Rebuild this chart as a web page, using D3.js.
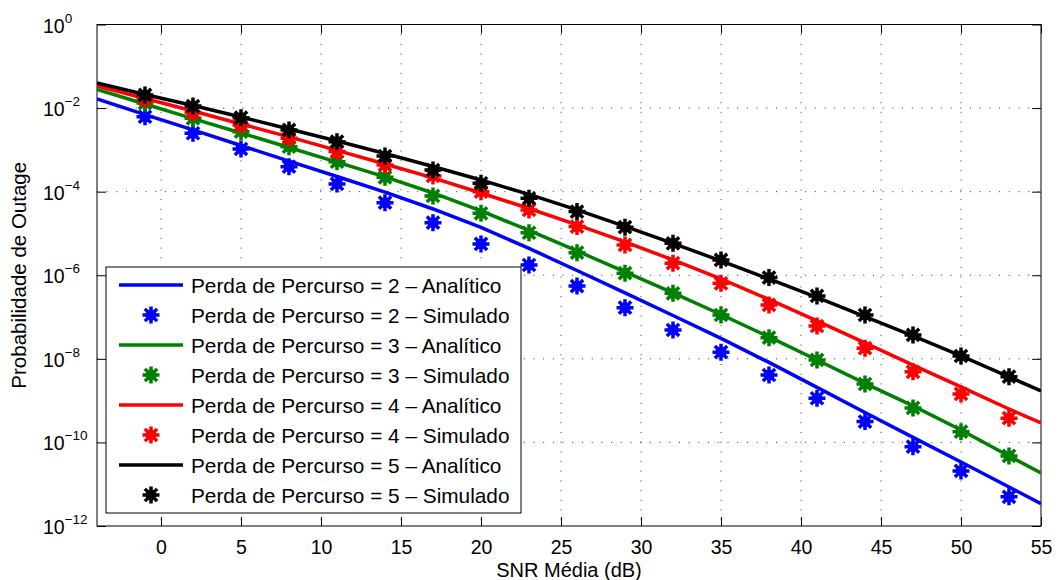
<!DOCTYPE html>
<html>
<head>
<meta charset="utf-8">
<script src="https://cdn.jsdelivr.net/npm/d3@7"></script>
<style>
  body { margin: 0; background: #fff; }
  text { font-family: "Liberation Sans", Arial, sans-serif; fill: #000; }
</style>
</head>
<body>
<svg id="chart" width="1058" height="580"></svg>
<script>
// SNR points (dB)
const snrSim = [-1, 2, 5, 8, 11, 14, 17, 20, 23, 26, 29, 32, 35, 38, 41, 44, 47, 50, 53];
const snrAna = [-4, -1, 2, 5, 8, 11, 14, 17, 20, 23, 26, 29, 32, 35, 38, 41, 44, 47, 50, 53, 55];

// analytic curves
const anaPL2 = [1.65e-2, 7.0e-3, 3.0e-3, 1.27e-3, 5.4e-4, 2.31e-4, 9.8e-5, 3.85e-5, 1.39e-5, 4.38e-6, 1.30e-6,
  3.77e-7, 1.09e-7, 3.08e-8, 8.2e-9, 2.07e-9, 5.2e-10, 1.32e-10, 3.41e-11, 8.6e-12, 3.4e-12];
const anaPL3 = [2.79e-2, 1.25e-2, 5.6e-3, 2.54e-3, 1.14e-3, 5.1e-4, 2.25e-4, 9.3e-5, 3.45e-5, 1.18e-5, 3.81e-6,
  1.2e-6, 3.77e-7, 1.15e-7, 3.34e-8, 9.4e-9, 2.58e-9, 7.5e-10, 1.99e-10, 4.75e-11, 1.86e-11];
const anaPL4 = [3.38e-2, 1.7e-2, 8.5e-3, 4.17e-3, 2.04e-3, 9.7e-4, 4.6e-4, 2.13e-4, 9.3e-5, 3.96e-5, 1.6e-5,
  6.3e-6, 2.32e-6, 8.15e-7, 2.64e-7, 8.1e-8, 2.4e-8, 7.1e-9, 2.13e-9, 6.3e-10, 2.93e-10];
const anaPL5 = [3.98e-2, 2.11e-2, 1.15e-2, 6.1e-3, 3.16e-3, 1.63e-3, 8.2e-4, 4.0e-4, 1.9e-4, 8.6e-5, 3.65e-5,
  1.47e-5, 5.8e-6, 2.2e-6, 8.15e-7, 2.94e-7, 1.03e-7, 3.53e-8, 1.17e-8, 3.69e-9, 1.71e-9];

// simulated points
const simPL2 = [6.2e-3, 2.5e-3, 1.05e-3, 3.96e-4, 1.53e-4, 5.46e-5, 1.81e-5, 5.6e-6, 1.76e-6, 5.5e-7,
  1.68e-7, 4.9e-8, 1.44e-8, 4.1e-9, 1.14e-9, 3.15e-10, 7.9e-11, 2.08e-11, 5.0e-12];
const simPL3 = [1.32e-2, 5.7e-3, 2.72e-3, 1.19e-3, 5.2e-4, 2.21e-4, 7.9e-5, 3.04e-5, 1.04e-5, 3.47e-6,
  1.12e-6, 3.7e-7, 1.12e-7, 3.2e-8, 9.4e-9, 2.5e-9, 6.7e-10, 1.81e-10, 4.75e-11];
const simPL4 = [1.65e-2, 7.8e-3, 3.94e-3, 1.9e-3, 9.1e-4, 4.35e-4, 2.38e-4, 1.0e-4, 3.65e-5, 1.46e-5,
  5.3e-6, 1.94e-6, 6.4e-7, 1.95e-7, 6.1e-8, 1.8e-8, 4.9e-9, 1.45e-9, 3.8e-10];
const simPL5 = [2.06e-2, 1.12e-2, 5.9e-3, 3.0e-3, 1.57e-3, 7.1e-4, 3.3e-4, 1.59e-4, 6.95e-5, 3.33e-5,
  1.41e-5, 5.8e-6, 2.32e-6, 8.8e-7, 3.2e-7, 1.12e-7, 3.73e-8, 1.17e-8, 3.75e-9];

const xTicks = [0, 5, 10, 15, 20, 25, 30, 35, 40, 45, 50, 55];
const yTickExp = [0, -2, -4, -6, -8, -10, -12];

const series = [
  { name: 'Perda de Percurso = 2', color: '#0000ff', ana: anaPL2, sim: simPL2 },
  { name: 'Perda de Percurso = 3', color: '#008000', ana: anaPL3, sim: simPL3 },
  { name: 'Perda de Percurso = 4', color: '#ff0000', ana: anaPL4, sim: simPL4 },
  { name: 'Perda de Percurso = 5', color: '#000000', ana: anaPL5, sim: simPL5 }
];

const svg = d3.select('#chart');
const margin = { top: 24.5, right: 17, bottom: 54, left: 97 };
const width = +svg.attr('width') - margin.left - margin.right;
const height = +svg.attr('height') - margin.top - margin.bottom;

const g = svg.append('g')
  .attr('transform', 'translate(' + margin.left + ',' + margin.top + ')');

const x = d3.scaleLinear().domain([-4, 55]).range([0, width]);
const y = d3.scaleLog().domain([1e-12, 1]).range([height, 0]);

// grid
const grid = g.append('g').attr('class', 'grid');
grid.selectAll('.vgrid')
  .data(xTicks.filter(d => d < 55))
  .enter().append('line')
  .attr('x1', d => x(d)).attr('x2', d => x(d))
  .attr('y1', 0).attr('y2', height)
  .attr('stroke', '#333').attr('stroke-width', 1)
  .attr('stroke-dasharray', '1,8.7');
grid.selectAll('.hgrid')
  .data(yTickExp.filter(e => e < 0 && e > -12))
  .enter().append('line')
  .attr('x1', 0).attr('x2', width)
  .attr('y1', d => y(Math.pow(10, d))).attr('y2', d => y(Math.pow(10, d)))
  .attr('stroke', '#333').attr('stroke-width', 1)
  .attr('stroke-dasharray', '1,8.7');

// axes: ticks inward on all sides
const tickLen = 9;
const xAxisB = d3.axisBottom(x).tickValues(xTicks).tickSize(-tickLen).tickPadding(14);
const xAxisT = d3.axisTop(x).tickValues(xTicks).tickSize(-tickLen).tickFormat('');
const yAxisL = d3.axisLeft(y).tickValues(yTickExp.map(e => Math.pow(10, e))).tickSize(-tickLen).tickFormat('');
const yAxisR = d3.axisRight(y).tickValues(yTickExp.map(e => Math.pow(10, e))).tickSize(-tickLen).tickFormat('');

const gxb = g.append('g').attr('transform', 'translate(0,' + height + ')').call(xAxisB);
g.append('g').call(xAxisT);
g.append('g').call(yAxisL);
g.append('g').attr('transform', 'translate(' + width + ',0)').call(yAxisR);

g.selectAll('.domain').remove();
g.selectAll('.tick line').attr('stroke', '#000').attr('stroke-width', 1);
gxb.selectAll('.tick text')
  .style('font-family', '"Liberation Sans", Arial, sans-serif')
  .style('font-size', '19.5px')
  .attr('dy', '0.71em');

// y tick labels 10^n, left aligned like the original
const yl = svg.append('g');
yTickExp.forEach(e => {
  const t = yl.append('text')
    .attr('x', 43)
    .attr('y', margin.top + y(Math.pow(10, e)) + 8)
    .style('font-size', '19.5px');
  t.append('tspan').text('10');
  t.append('tspan')
    .attr('dy', -10)
    .style('font-size', '13.5px')
    .text(e === 0 ? '0' : '\u2212' + Math.abs(e));
});

// frame
g.append('rect')
  .attr('width', width).attr('height', height)
  .attr('fill', 'none').attr('stroke', '#000').attr('stroke-width', 1);

// clip
svg.append('defs').append('clipPath').attr('id', 'clip')
  .append('rect').attr('width', width).attr('height', height);

const line = d3.line()
  .x((d, i) => x(snrAna[i]))
  .y(d => y(d));

const plot = g.append('g').attr('clip-path', 'url(#clip)');

function star(sel, color) {
  const r = 8.5;
  sel.append('circle').attr('r', 5.5).attr('fill', color);
  sel.append('path')
    .attr('d', 'M' + -r + ',0L' + r + ',0M0,' + -r + 'L0,' + r +
      'M' + (-r * 0.72) + ',' + (-r * 0.72) + 'L' + (r * 0.72) + ',' + (r * 0.72) +
      'M' + (-r * 0.72) + ',' + (r * 0.72) + 'L' + (r * 0.72) + ',' + (-r * 0.72))
    .attr('stroke', color).attr('stroke-width', 3.5).attr('fill', 'none');
}

series.forEach(s => {
  plot.append('path')
    .datum(s.ana)
    .attr('d', line)
    .attr('fill', 'none')
    .attr('stroke', s.color)
    .attr('stroke-width', 3.5);
  plot.selectAll(null)
    .data(s.sim)
    .enter().append('g')
    .attr('transform', (d, i) => 'translate(' + x(snrSim[i]) + ',' + y(d) + ')')
    .each(function() { star(d3.select(this), s.color); });
});

// axis titles
svg.append('text')
  .attr('x', margin.left + width / 2)
  .attr('y', 577)
  .attr('text-anchor', 'middle')
  .style('font-size', '20px')
  .text('SNR Média (dB)');

svg.append('text')
  .attr('transform', 'translate(26,' + (margin.top + height / 2) + ') rotate(-90)')
  .attr('text-anchor', 'middle')
  .style('font-size', '20.5px')
  .text('Probabilidade de Outage');

// legend
const legend = svg.append('g').attr('transform', 'translate(106,267)');
legend.append('rect')
  .attr('width', 415).attr('height', 246)
  .attr('fill', '#fff').attr('stroke', '#000').attr('stroke-width', 1);

const legendRows = [];
series.forEach(s => {
  legendRows.push({ label: s.name + ' \u2013 Anal\u00edtico', color: s.color, type: 'line' });
  legendRows.push({ label: s.name + ' \u2013 Simulado', color: s.color, type: 'marker' });
});

const rows = legend.selectAll('.row')
  .data(legendRows)
  .enter().append('g')
  .attr('class', 'row')
  .attr('transform', (d, i) => 'translate(0,' + (18 + i * 30) + ')');

rows.each(function(d) {
  const r = d3.select(this);
  if (d.type === 'line') {
    r.append('line').attr('x1', 13).attr('x2', 77).attr('y1', 0).attr('y2', 0)
      .attr('stroke', d.color).attr('stroke-width', 3.5);
  } else {
    const m = r.append('g').attr('transform', 'translate(45,0)');
    star(m, d.color);
  }
  r.append('text')
    .attr('x', 85)
    .attr('dy', '0.36em')
    .style('font-size', '20.8px')
    .text(d.label);
});
</script>
</body>
</html>
